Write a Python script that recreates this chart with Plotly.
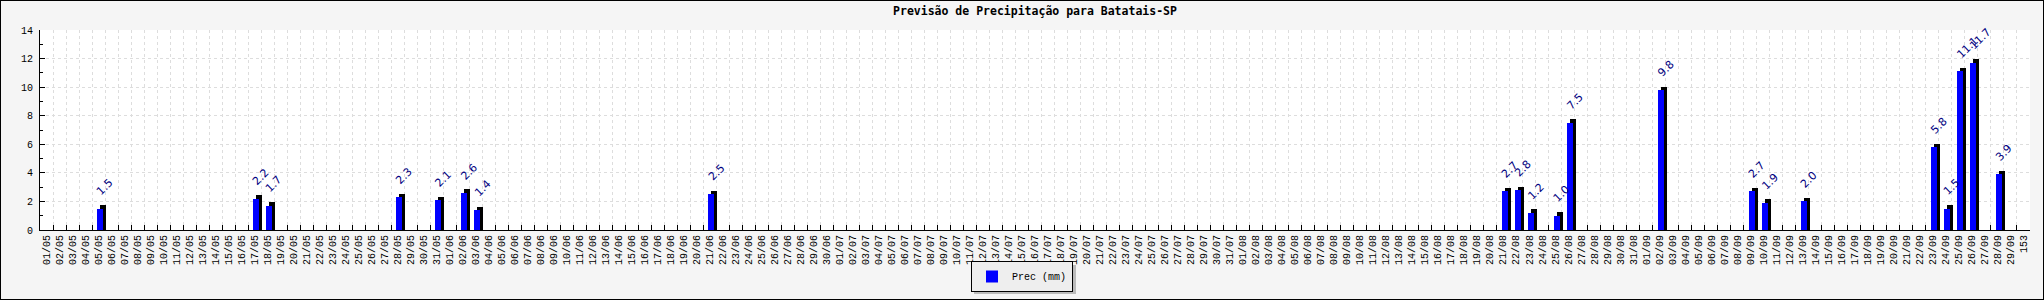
import pandas as pd
import plotly.graph_objects as go

# ---- data ----
categories = [d.strftime("%d/%m") for d in pd.date_range("2024-05-01", "2024-09-29")] + ["153"]
rain_dates = ["05/05", "17/05", "18/05", "28/05", "31/05", "02/06", "03/06", "21/06",
              "21/08", "22/08", "23/08", "25/08", "26/08", "02/09", "09/09", "10/09",
              "13/09", "23/09", "24/09", "25/09", "26/09", "28/09"]
rain_mm = [1.5, 2.2, 1.7, 2.3, 2.1, 2.6, 1.4, 2.5,
           2.7, 2.8, 1.2, 1.0, 7.5, 9.8, 2.7, 1.9,
           2.0, 5.8, 1.5, 11.1, 11.7, 3.9]
title_text = "Previsão de Precipitação para Batatais-SP"
series_name = "Prec (mm)"

# ---- figure geometry (pixels) ----
W, H = 2044, 300
ML, MR, MT, MB = 40, 14, 30, 70
PW, PH = W - ML - MR, H - MT - MB
px_per_unit = PH / 14.0
depth_units = 3.5 / px_per_unit


def px_x(p):
    return (p - ML) / PW


def px_y(p):
    return (PH - (p - MT)) / PH


fig = go.Figure()

# 3D "depth" (black) behind the bars
fig.add_trace(go.Bar(
    x=rain_dates, y=[v + depth_units for v in rain_mm],
    width=0.46, offset=0.10,
    marker=dict(color="#000000", line=dict(width=0)),
    showlegend=False, hoverinfo="skip",
))
# front face
fig.add_trace(go.Bar(
    x=rain_dates, y=rain_mm, name=series_name,
    width=0.46, offset=-0.13,
    marker=dict(color="#0000FF", line=dict(width=0)),
))

# value labels
for d, v in zip(rain_dates, rain_mm):
    fig.add_annotation(
        x=d, y=v, xref="x", yref="y", text=f"{v:.1f}", showarrow=False,
        textangle=-45, xanchor="left", yanchor="bottom", xshift=-7, yshift=8,
        font=dict(family="DejaVu Sans", size=11, color="#000080"),
    )

# outer frame
fig.add_shape(type="rect", xref="paper", yref="paper",
              x0=px_x(0), x1=px_x(W), y0=px_y(H), y1=px_y(0),
              line=dict(color="#000000", width=2), fillcolor="rgba(0,0,0,0)", layer="above")
# legend drop shadow
fig.add_shape(type="rect", xref="paper", yref="paper",
              x0=px_x(974), x1=px_x(1076), y0=px_y(294), y1=px_y(265),
              line=dict(width=0), fillcolor="#BBBBBB", layer="above")

fig.update_layout(
    width=W, height=H,
    margin=dict(l=ML, r=MR, t=MT, b=MB, pad=0, autoexpand=False),
    paper_bgcolor="#F5F5F5", plot_bgcolor="#FFFFFF",
    barmode="overlay", bargap=0,
    title=dict(text=title_text, x=0.5, xanchor="center", xref="paper",
               y=1 - 11 / H, yref="container", yanchor="middle",
               font=dict(family="DejaVu Sans Mono", size=11.5, color="#000000", weight="bold")),
    showlegend=True,
    legend=dict(orientation="h", x=px_x(1022), xanchor="center",
                y=px_y(276.5), yanchor="middle",
                bgcolor="#EEEEEE", bordercolor="#000000", borderwidth=1,
                font=dict(family="Liberation Mono", size=10, color="#000000")),
    font=dict(family="Liberation Mono", size=10, color="#000000"),
)

fig.update_xaxes(
    type="category", categoryorder="array", categoryarray=categories,
    range=[-0.5, len(categories) - 0.5],
    tickmode="linear", dtick=1, tick0=0,
    tickson="boundaries", ticks="inside", ticklen=5, tickcolor="#000000",
    tickangle=-90, tickfont=dict(family="Liberation Mono", size=10, color="#000000"),
    showline=True, linecolor="#000000", linewidth=1,
    showgrid=True, gridcolor="#DDDDDD", griddash="3px,3px", gridwidth=1,
    fixedrange=True, automargin=False,
)
fig.update_yaxes(
    range=[0, 14], dtick=2, tick0=0,
    ticks="inside", ticklen=5, tickcolor="#000000",
    minor=dict(dtick=1, ticks="inside", ticklen=3, tickcolor="#000000", showgrid=False),
    tickfont=dict(family="Liberation Mono", size=10, color="#000000"),
    ticklabelstandoff=4,
    showline=True, linecolor="#000000", linewidth=1,
    showgrid=True, gridcolor="#DDDDDD", griddash="3px,3px", gridwidth=1,
    zeroline=False, fixedrange=True, automargin=False,
)

fig.write_html("out.html")
